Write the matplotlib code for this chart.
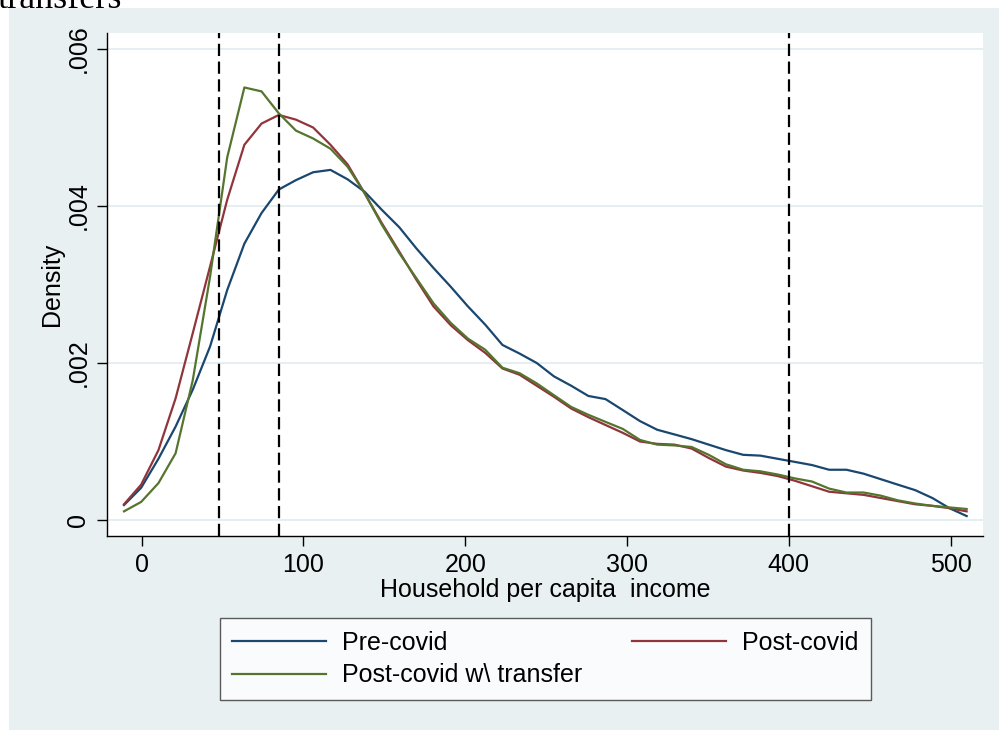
import numpy as np
import matplotlib
matplotlib.use("Agg")
import matplotlib.pyplot as plt
from matplotlib.patches import Rectangle

plt.rcParams['font.family'] = ['Liberation Sans', 'DejaVu Sans']

# evaluation points of the density estimates (50 points)
income = [-10.9, -0.3, 10.4, 21.0, 31.6, 42.3, 52.9, 63.5, 74.1, 84.8,
          95.4, 106.0, 116.7, 127.3, 137.9, 148.5, 159.2, 169.8, 180.4, 191.1,
          201.7, 212.3, 223.0, 233.6, 244.2, 254.8, 265.5, 276.1, 286.7, 297.4,
          308.0, 318.6, 329.3, 339.9, 350.5, 361.1, 371.8, 382.4, 393.0, 403.7,
          414.3, 424.9, 435.6, 446.2, 456.8, 467.4, 478.1, 488.7, 499.3, 509.9]

# densities, in units of 1e-3
pre_covid = [0.19, 0.41, 0.78, 1.19, 1.66, 2.21, 2.93, 3.52, 3.91, 4.21,
             4.33, 4.43, 4.46, 4.34, 4.18, 3.95, 3.73, 3.46, 3.21, 2.97,
             2.72, 2.49, 2.23, 2.12, 2.00, 1.83, 1.71, 1.58, 1.54, 1.40,
             1.26, 1.15, 1.09, 1.03, 0.96, 0.89, 0.83, 0.82, 0.78, 0.74,
             0.70, 0.64, 0.64, 0.59, 0.52, 0.45, 0.38, 0.28, 0.15, 0.05]
post_covid = [0.20, 0.45, 0.89, 1.55, 2.38, 3.23, 4.08, 4.78, 5.05, 5.16,
              5.10, 5.00, 4.78, 4.53, 4.16, 3.78, 3.42, 3.06, 2.72, 2.48,
              2.29, 2.13, 1.93, 1.85, 1.71, 1.57, 1.42, 1.31, 1.21, 1.11,
              1.00, 0.97, 0.96, 0.91, 0.79, 0.68, 0.63, 0.60, 0.56, 0.50,
              0.43, 0.36, 0.34, 0.32, 0.28, 0.24, 0.20, 0.18, 0.15, 0.11]
post_transfer = [0.11, 0.23, 0.47, 0.85, 1.78, 3.10, 4.62, 5.51, 5.46, 5.18,
                 4.96, 4.86, 4.73, 4.50, 4.16, 3.76, 3.40, 3.08, 2.76, 2.51,
                 2.31, 2.17, 1.94, 1.87, 1.74, 1.59, 1.44, 1.34, 1.25, 1.16,
                 1.02, 0.96, 0.95, 0.93, 0.83, 0.71, 0.64, 0.62, 0.58, 0.53,
                 0.49, 0.40, 0.35, 0.35, 0.31, 0.25, 0.21, 0.18, 0.16, 0.14]

cutoffs = [48, 85, 400]
xticks = [0, 100, 200, 300, 400, 500]
yticks = [0, 0.002, 0.004, 0.006]
ytick_labels = ["0", ".002", ".004", ".006"]

W, H = 999, 730
fig = plt.figure(figsize=(W / 100, H / 100), dpi=100)
fig.patch.set_facecolor("white")

# stata-ish graph region
fig.patches.append(Rectangle((9 / W, 0), 1 - 9 / W, 1 - 8 / H, transform=fig.transFigure,
                             facecolor="#e8f0f2", edgecolor="none", zorder=-10))

# title is clipped at the top of the reference
fig.text(-2 / W, 1 - 8 / H, "transfers", family=["Liberation Serif", "DejaVu Serif"],
         fontsize=26, ha="left", va="baseline")

ax = fig.add_axes([107 / W, (H - 536) / H, (983 - 107) / W, (536 - 33) / H])
ax.set_facecolor("white")

for t in yticks:
    ax.axhline(t, color="#e3eef0", lw=1.3, zorder=0)

ax.plot(income, np.array(pre_covid) * 1e-3, color="#1a476f", lw=1.6, label="Pre-covid")
ax.plot(income, np.array(post_covid) * 1e-3, color="#90353b", lw=1.6, label="Post-covid")
ax.plot(income, np.array(post_transfer) * 1e-3, color="#55752f", lw=1.6,
        label="Post-covid w\\ transfer")

for c in cutoffs:
    ax.axvline(c, color="black", lw=1.6, linestyle=(0, (5.5, 2.5)), zorder=3)

ax.set_xlim(-21.4, 520)
ax.set_ylim(-0.000204, 0.006204)

ax.set_xticks(xticks)
ax.set_xticklabels([str(v) for v in xticks])
ax.set_yticks(yticks)
ax.set_yticklabels(ytick_labels, rotation=90, va="center")
ax.tick_params(axis="both", length=7, width=1, labelsize=18, pad=5, colors="black")

for s in ["top", "right"]:
    ax.spines[s].set_visible(False)
for s in ["left", "bottom"]:
    ax.spines[s].set_linewidth(1)

ax.set_xlabel("Household per capita  income", fontsize=18, labelpad=1)
ax.set_ylabel("Density", fontsize=18, labelpad=2)

h, l = ax.get_legend_handles_labels()
order = [0, 2, 1]
leg = fig.legend([h[i] for i in order], [l[i] for i in order], ncol=2,
                 loc="center", bbox_to_anchor=(545.5 / W, 1 - 659 / H),
                 fontsize=18, frameon=True, fancybox=False, edgecolor="#333333",
                 handlelength=3.75, handletextpad=0.65, columnspacing=2.0,
                 labelspacing=0.35, borderpad=0.5)
leg.get_frame().set_linewidth(1)

fig.savefig("out.png", dpi=100)
